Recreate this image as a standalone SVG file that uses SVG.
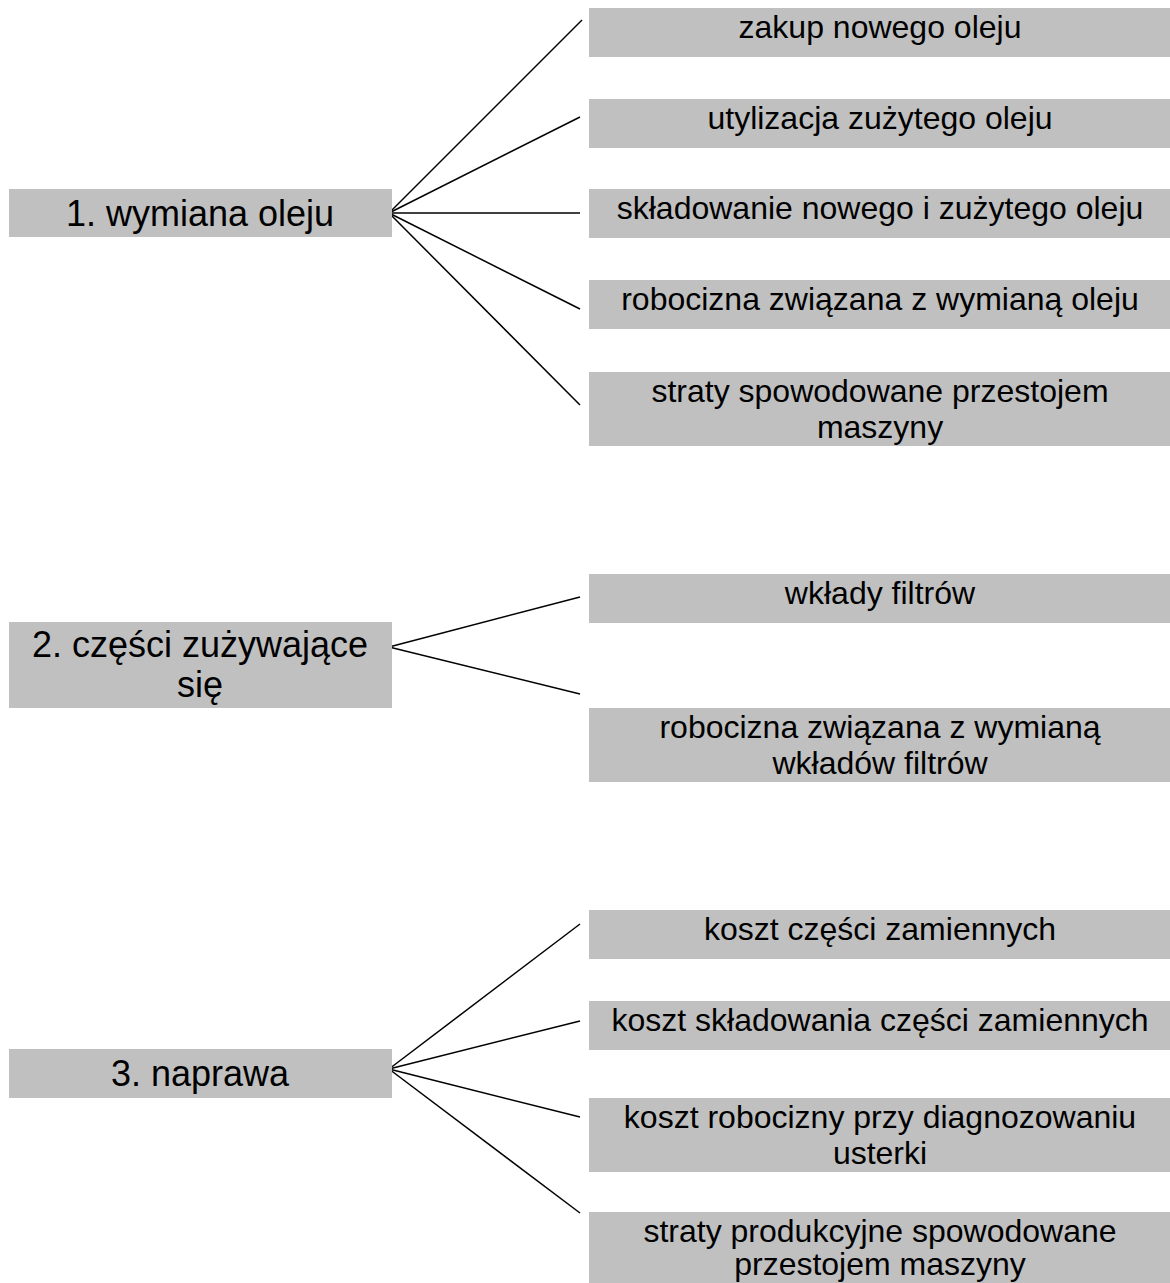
<svg xmlns="http://www.w3.org/2000/svg" width="1170" height="1283" viewBox="0 0 1170 1283">
<style>
.box{fill:#c0c0c0;}
.t{font-family:"Liberation Sans",Arial,sans-serif;fill:#000;text-anchor:middle;}
.r{font-size:32px;}
.l{font-size:36px;}
.c line{stroke:#000;stroke-width:1.5;}
</style>
<rect width="1170" height="1283" fill="#fff"/>
<g class="c" id="connectors">
<line x1="389" y1="213" x2="582" y2="20"/>
<line x1="389" y1="213" x2="580" y2="117"/>
<line x1="389" y1="213" x2="580" y2="213"/>
<line x1="389" y1="213" x2="580" y2="309"/>
<line x1="389" y1="213" x2="580" y2="405"/>
<line x1="389" y1="647" x2="580" y2="597"/>
<line x1="389" y1="647" x2="580" y2="694"/>
<line x1="389" y1="1069" x2="580" y2="924"/>
<line x1="389" y1="1069" x2="580" y2="1021"/>
<line x1="389" y1="1069" x2="580" y2="1117"/>
<line x1="389" y1="1069" x2="580" y2="1213"/>
</g>
<g id="n1"><rect class="box" x="9" y="189" width="383" height="48"/><text class="t l" x="200" y="226">1. wymiana oleju</text></g>
<g id="n1a"><rect class="box" x="589" y="8" width="581" height="49"/><text class="t r" x="880" y="38">zakup nowego oleju</text></g>
<g id="n1b"><rect class="box" x="589" y="99" width="581" height="49"/><text class="t r" x="880" y="129">utylizacja zużytego oleju</text></g>
<g id="n1c"><rect class="box" x="589" y="189" width="581" height="49"/><text class="t r" x="880" y="219">składowanie nowego i zużytego oleju</text></g>
<g id="n1d"><rect class="box" x="589" y="280" width="581" height="49"/><text class="t r" x="880" y="310">robocizna związana z wymianą oleju</text></g>
<g id="n1e"><rect class="box" x="589" y="372" width="581" height="74"/><text class="t r" x="880" y="402">straty spowodowane przestojem</text><text class="t r" x="880" y="438">maszyny</text></g>
<g id="n2"><rect class="box" x="9" y="622" width="383" height="86"/><text class="t l" x="200" y="657">2. części zużywające</text><text class="t l" x="200" y="697">się</text></g>
<g id="n2a"><rect class="box" x="589" y="574" width="581" height="49"/><text class="t r" x="880" y="604">wkłady filtrów</text></g>
<g id="n2b"><rect class="box" x="589" y="708" width="581" height="74"/><text class="t r" x="880" y="738">robocizna związana z wymianą</text><text class="t r" x="880" y="774">wkładów filtrów</text></g>
<g id="n3"><rect class="box" x="9" y="1049" width="383" height="49"/><text class="t l" x="200" y="1086">3. naprawa</text></g>
<g id="n3a"><rect class="box" x="589" y="910" width="581" height="49"/><text class="t r" x="880" y="940">koszt części zamiennych</text></g>
<g id="n3b"><rect class="box" x="589" y="1001" width="581" height="49"/><text class="t r" x="880" y="1031">koszt składowania części zamiennych</text></g>
<g id="n3c"><rect class="box" x="589" y="1098" width="581" height="74"/><text class="t r" x="880" y="1128">koszt robocizny przy diagnozowaniu</text><text class="t r" x="880" y="1164">usterki</text></g>
<g id="n3d"><rect class="box" x="589" y="1212" width="581" height="76"/><text class="t r" x="880" y="1242">straty produkcyjne spowodowane</text><text class="t r" x="880" y="1275">przestojem maszyny</text></g>
</svg>
